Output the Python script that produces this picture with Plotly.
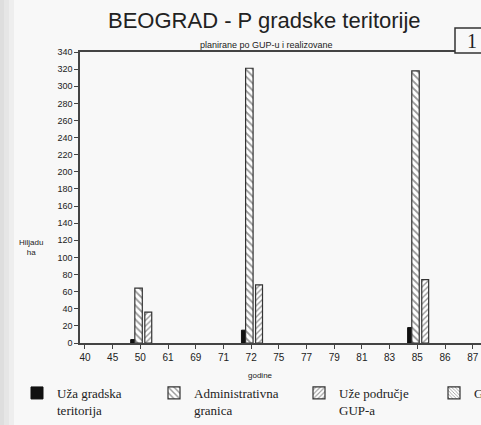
import plotly.graph_objects as go

years = ["40", "45", "50", "61", "69", "71", "72", "75", "77", "79", "81", "83", "85", "86", "87"]
uza_gradska = [None, None, 4, None, None, None, 15, None, None, None, None, None, 18, None, None]
administrativna = [None, None, 64, None, None, None, 321, None, None, None, None, None, 318, None, None]
uze_gup = [None, None, 36, None, None, None, 68, None, None, None, None, None, 74, None, None]
granica_gup = [None] * len(years)

y_ticks = list(range(0, 341, 20))

W, H = 481, 425
L, R, T, B = 80, 0, 52, 82
pw = W - L - R
ph = H - T - B

def px_x(p):
    return (p - L) / pw

def px_y(p):
    return (H - B - p) / ph

ink = "#222222"
bg = "#f8f8f8"
serif = "Liberation Serif, Times New Roman, serif"

fig = go.Figure()
fig.add_trace(go.Bar(x=years, y=uza_gradska, name="Uža gradska<br>teritorija", legend="legend",
                     marker=dict(color="#111111", line=dict(color="#111111", width=1)),
                     width=0.17, offset=-0.35))
fig.add_trace(go.Bar(x=years, y=administrativna, name="Administrativna<br>granica", legend="legend2",
                     marker=dict(color="white", line=dict(color="#333333", width=1.2),
                                 pattern=dict(shape="\\", size=5, solidity=0.35, fgcolor="#333333", bgcolor="white")),
                     width=0.27, offset=-0.2))
fig.add_trace(go.Bar(x=years, y=uze_gup, name="Uže područje<br>GUP-a", legend="legend3",
                     marker=dict(color="white", line=dict(color="#333333", width=1.2),
                                 pattern=dict(shape="/", size=4, solidity=0.35, fgcolor="#333333", bgcolor="white")),
                     width=0.25, offset=0.16))
fig.add_trace(go.Bar(x=years, y=granica_gup, name="Granica GUP-a", legend="legend4",
                     marker=dict(color="white", line=dict(color="#333333", width=1.2),
                                 pattern=dict(shape="\\", size=3, solidity=0.35, fgcolor="#333333", bgcolor="white")),
                     width=0.25, offset=0.4))

def leg(xpx):
    return dict(orientation="h", x=px_x(xpx), y=px_y(378), xanchor="left", yanchor="top",
                bgcolor="rgba(0,0,0,0)", font=dict(family=serif, size=13, color=ink),
                valign="top", itemclick=False, itemdoubleclick=False)

fig.update_layout(
    width=W, height=H,
    margin=dict(l=L, r=R, t=T, b=B, autoexpand=False),
    paper_bgcolor=bg, plot_bgcolor=bg,
    barmode="overlay",
    font=dict(family="Liberation Sans, Arial, sans-serif", color=ink, size=8),
    showlegend=True,
    legend=leg(17), legend2=leg(154), legend3=leg(299), legend4=leg(434),
    xaxis=dict(type="category", categoryorder="array", categoryarray=years,
               range=[-0.18, 14.3], showline=True, linecolor="#444444", linewidth=1.5,
               mirror=True, ticks="outside", ticklen=4, tickcolor="#444444",
               tickfont=dict(size=10, color=ink), showgrid=False, zeroline=False, fixedrange=True),
    yaxis=dict(range=[0, 340], tickvals=y_ticks, showline=True, linecolor="#444444", linewidth=1.5,
               ticks="outside", ticklen=4, tickcolor="#444444",
               tickfont=dict(size=9, color=ink), showgrid=False, zeroline=False, fixedrange=True),
)

# left-edge grey shading of the scanned page
for w, c in [(14, "#eeeeee"), (9, "#e6e6e6"), (4, "#dedede")]:
    fig.add_shape(type="rect", xref="paper", yref="paper", x0=px_x(-2), x1=px_x(w), y0=px_y(H + 2), y1=px_y(-2),
                  fillcolor=c, line=dict(width=0), layer="above")

# box with "1"
fig.add_shape(type="rect", xref="paper", yref="paper", x0=px_x(455), x1=px_x(495), y0=px_y(53), y1=px_y(28),
              fillcolor=bg, line=dict(color="#333333", width=1.5))

def note(text, xp, yp, **font):
    fig.add_annotation(x=px_x(xp), y=px_y(yp), xref="paper", yref="paper", text=text,
                       showarrow=False, xanchor="center", yanchor="middle", font=font)

note("1", 472, 41, family=serif, size=20, color=ink)
note("BEOGRAD - P gradske teritorije", 264, 21, size=22, color=ink)
note("planirane po GUP-u i realizovane", 266, 45, size=9, color=ink)
note("Hiljadu<br>ha", 31, 247, size=8, color=ink)
note("godine", 260, 375, size=8, color=ink)

fig.write_html("out.html", config={"displayModeBar": False},
               post_script="document.body.style.margin='0';document.body.style.overflow='hidden';")
